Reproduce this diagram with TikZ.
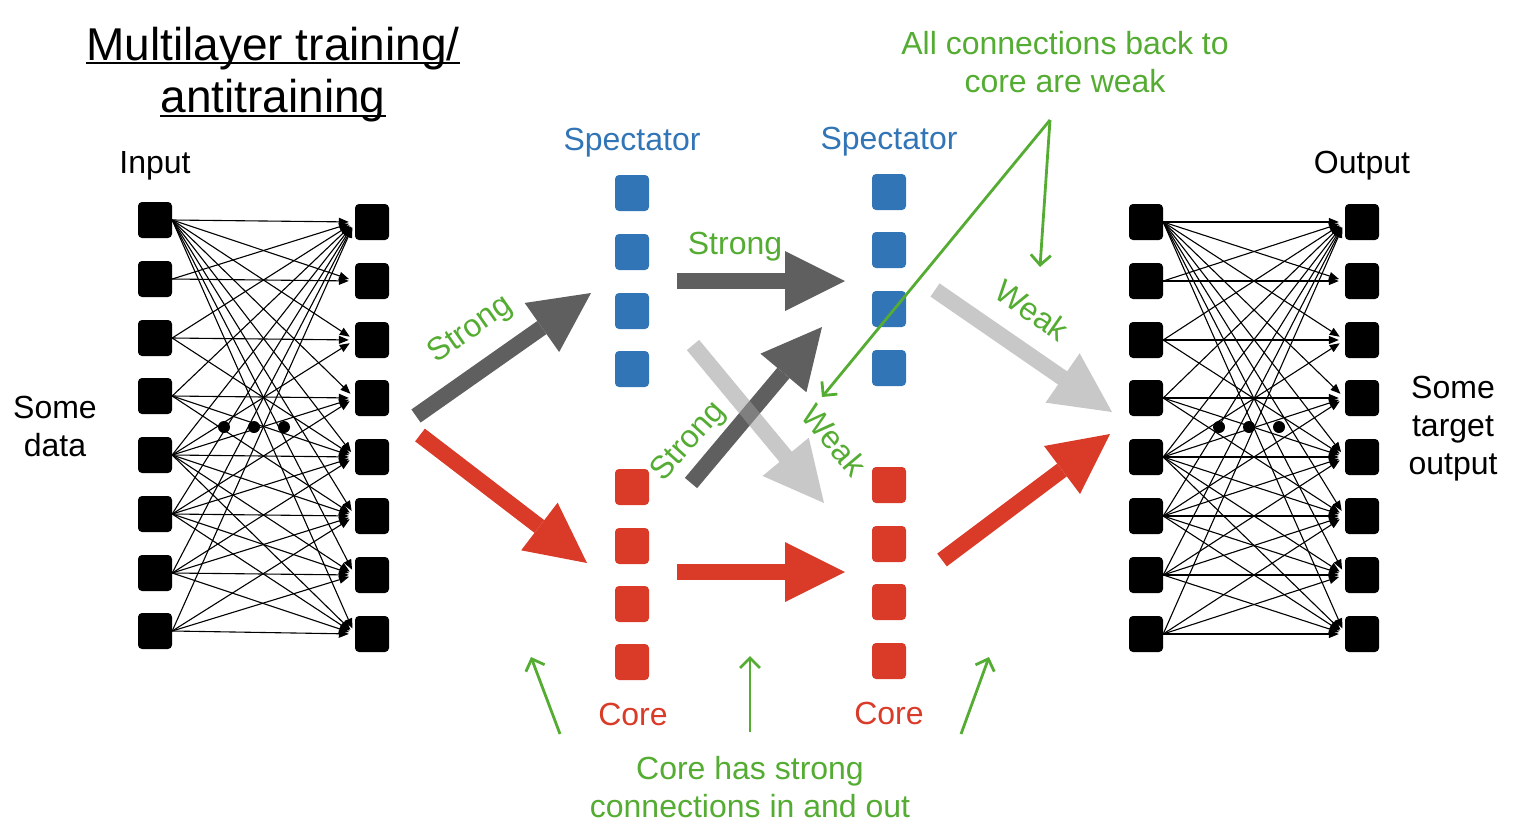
\documentclass[tikz,border=0pt]{standalone}
\usepackage{fontspec}
\setmainfont{Liberation Sans}
\usepackage{tikz}
\usetikzlibrary{arrows.meta}
\definecolor{specblue}{RGB}{50,117,183}
\definecolor{corered}{RGB}{218,59,40}
\definecolor{notegreen}{RGB}{84,172,50}
\definecolor{darkarr}{RGB}{95,95,95}
\definecolor{lightarr}{RGB}{155,155,155}
\tikzset{unit/.style={rectangle,rounded corners=4pt,minimum width=34pt,minimum height=36pt,inner sep=0pt}}
\tikzset{link/.style={-{Triangle[length=10pt,width=8pt]},line width=1.1pt,shorten >=6pt}}
\tikzset{fat/.style={line width=16pt,-{Triangle[length=60pt,width=60pt,line width=0pt]}}}
\tikzset{faint/.style={lightarr,opacity=0.55}}
\tikzset{note/.style={notegreen,line width=2.8pt,-{Straight Barb[length=10pt,width=20pt]}}}
\tikzset{lbl/.style={font=\fontsize{32}{38}\selectfont,inner sep=0pt,align=center}}
\tikzset{ttl/.style={font=\fontsize{46}{53}\selectfont,inner sep=0pt}}
\tikzset{blob/.style={circle,fill=black,minimum size=12pt,inner sep=0pt}}
\newcommand{\netlinks}{1/1,1/2,1/3,1/4,1/5,1/6,1/7,1/8,2/1,2/2,3/1,3/3,3/5,4/1,4/4,4/5,4/6,5/1,5/3,5/4,5/5,5/6,5/7,5/8,6/1,6/4,6/5,6/6,6/7,6/8,7/1,7/5,7/6,7/7,7/8,8/1,8/6,8/7,8/8}

\begin{document}
\begin{tikzpicture}[x=1pt,y=-1pt]
                \useasboundingbox (0,0) rectangle (1516,836);

                % Title
                \node[ttl,anchor=base] (ttlA) at (273,60) {Multilayer training/};
                \node[ttl,anchor=base] (ttlB) at (273,112) {antitraining};
                \draw[line width=2pt] ([yshift=-3pt]ttlA.base west) -- ([yshift=-3pt]ttlA.base east);
                \draw[line width=2pt] ([yshift=-4pt]ttlB.base west) -- ([yshift=-4pt]ttlB.base east);

                % Input network
                \foreach \k/\yy in {1/220,2/279,3/338,4/396,5/455,6/514,7/573,8/631}
                    \node[unit,fill=black] (inA\k) at (155,\yy) {};
                \foreach \k/\yy in {1/222,2/281,3/340,4/398,5/457,6/516,7/575,8/634}
                    \node[unit,fill=black] (inB\k) at (372,\yy) {};
                \foreach \i/\j in \netlinks
                    \draw[link] (inA\i.east) -- (inB\j.west);
                \node[blob] (inD1) at (224,427) {};
                \node[blob] (inD2) at (254,427) {};
                \node[blob] (inD3) at (284,427) {};

                % Output network
                \foreach \k/\yy in {1/222,2/281,3/340,4/398,5/457,6/516,7/575,8/634}
                    \node[unit,fill=black] (outA\k) at (1146,\yy) {};
                \foreach \k/\yy in {1/222,2/281,3/340,4/398,5/457,6/516,7/575,8/634}
                    \node[unit,fill=black] (outB\k) at (1362,\yy) {};
                \foreach \i/\j in \netlinks
                    \draw[link] (outA\i.east) -- (outB\j.west);
                \node[blob] (outD1) at (1219,427) {};
                \node[blob] (outD2) at (1249,427) {};
                \node[blob] (outD3) at (1279,427) {};

                % Spectator and core layers
                \foreach \k/\yy in {1/193,2/252,3/311,4/369}
                    \node[unit,fill=specblue] (spA\k) at (632,\yy) {};
                \foreach \k/\yy in {1/192,2/250,3/309,4/368}
                    \node[unit,fill=specblue] (spB\k) at (889,\yy) {};
                \foreach \k/\yy in {1/487,2/546,3/604,4/662}
                    \node[unit,fill=corered] (crA\k) at (632,\yy) {};
                \foreach \k/\yy in {1/485,2/544,3/602,4/661}
                    \node[unit,fill=corered] (crB\k) at (889,\yy) {};

                % Thick arrows
                \coordinate (ga1) at (416,416); \coordinate (gb1) at (591,293);
                \coordinate (ra1) at (420,435); \coordinate (rb1) at (587,563);
                \coordinate (ga2) at (677,281); \coordinate (gb2) at (845,281);
                \coordinate (ra2) at (677,572); \coordinate (rb2) at (845,572);
                \coordinate (ga3) at (691,483); \coordinate (gb3) at (822,327);
                \coordinate (wa1) at (693,345); \coordinate (wb1) at (824,503);
                \coordinate (wa2) at (935,290); \coordinate (wb2) at (1112,412);
                \coordinate (ra3) at (942,560); \coordinate (rb3) at (1110,434);
                \draw[fat,darkarr] (ga1) -- (gb1);
                \draw[fat,corered] (ra1) -- (rb1);
                \draw[fat,darkarr] (ga2) -- (gb2);
                \draw[fat,corered] (ra2) -- (rb2);
                \draw[fat,darkarr] (ga3) -- (gb3);
                \draw[fat,faint] (wa1) -- (wb1);
                \draw[fat,faint] (wa2) -- (wb2);
                \draw[fat,corered] (ra3) -- (rb3);

                % Notes
                \coordinate (wk) at (1050,120);
                \coordinate (wkA) at (822,397);
                \coordinate (wkB) at (1040,267);
                \draw[note] (wk) -- (wkA);
                \draw[note] (wk) -- (wkB);
                \coordinate (csA) at (560,734); \coordinate (ctA) at (531,657);
                \coordinate (csB) at (750,732); \coordinate (ctB) at (750,656);
                \coordinate (csC) at (961,734); \coordinate (ctC) at (989,657);
                \draw[note] (csA) -- (ctA);
                \draw[note] (csB) -- (ctB);
                \draw[note] (csC) -- (ctC);

                % Labels
                \node[lbl,anchor=base] (inLbl) at (155,173) {Input};
                \node[lbl,anchor=base] (outLbl) at (1362,173) {Output};
                \node[lbl] (dataLbl) at (55,426) {Some\\data};
                \node[lbl] (tgtLbl) at (1453,429) {Some\\target\\output};
                \node[lbl,anchor=base,specblue] (spLblA) at (632,150) {Spectator};
                \node[lbl,anchor=base,specblue] (spLblB) at (889,149) {Spectator};
                \node[lbl,anchor=base,corered] (crLblA) at (633,725) {Core};
                \node[lbl,anchor=base,corered] (crLblB) at (889,724) {Core};
                \node[lbl,notegreen,rotate=35] (stA) at (471,330) {Strong};
                \node[lbl,notegreen,anchor=base] (stB) at (735,254) {Strong};
                \node[lbl,notegreen,rotate=48] (stC) at (689,442) {Strong};
                \node[lbl,notegreen,rotate=-50] (wkC) at (834,440) {Weak};
                \node[lbl,notegreen,rotate=-35] (wkD) at (1032,310) {Weak};
                \node[lbl,notegreen] (backNote) at (1065,62) {All connections back to\\core are weak};
                \node[lbl,notegreen] (coreNote) at (750,787) {Core has strong\\connections in and out};
\end{tikzpicture}
\end{document}
